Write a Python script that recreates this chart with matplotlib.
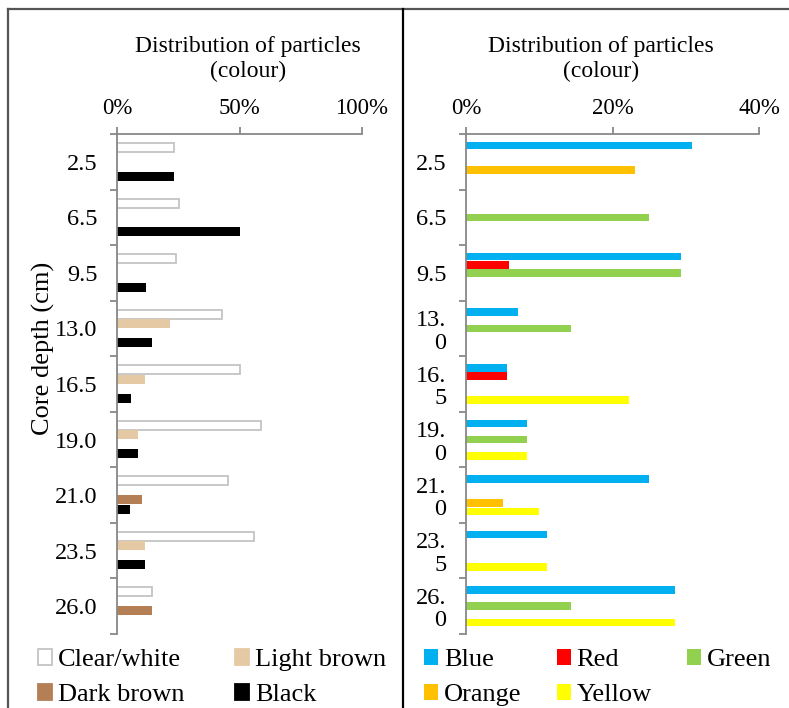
import numpy as np
import matplotlib
matplotlib.use("Agg")
import matplotlib.pyplot as plt
from matplotlib.patches import Patch
from matplotlib.ticker import FixedLocator, PercentFormatter

plt.rcParams['font.family'] = ['Liberation Serif', 'DejaVu Serif']
plt.rcParams['font.size'] = 16

depths = ["2.5", "6.5", "9.5", "13.0", "16.5", "19.0", "21.0", "23.5", "26.0"]
# right panel labels wrap inside the narrow cell
depths_wrapped = ["2.5", "6.5", "9.5", "13.\n0", "16.\n5", "19.\n0", "21.\n0", "23.\n5", "26.\n0"]

# tone of particles (% of particles)
clear_white = [23.3, 25.3, 24.0, 43.0, 50.2, 58.6, 45.3, 55.9, 14.4]
light_brown = [0, 0, 0, 21.6, 11.3, 8.4, 0, 11.3, 0]
dark_brown = [0, 0, 0, 0, 0, 0, 10.2, 0, 14.4]
black = [23.3, 50.2, 11.8, 14.4, 5.6, 8.4, 5.2, 11.3, 0]

# coloured particles (%)
blue = [30.8, 0, 29.4, 7.1, 5.6, 8.3, 25.0, 11.1, 28.6]
red = [0, 0, 5.9, 0, 5.6, 0, 0, 0, 0]
green = [0, 25.0, 29.4, 14.3, 0, 8.3, 0, 0, 14.3]
orange = [23.1, 0, 0, 0, 0, 0, 5.0, 0, 0]
yellow = [0, 0, 0, 0, 22.2, 8.3, 10.0, 11.1, 28.6]

W, H = 789, 708
fig = plt.figure(figsize=(W / 100, H / 100), dpi=100)

def px_axes(x0, y0, x1, y1):
    return fig.add_axes([x0 / W, 1 - y1 / H, (x1 - x0) / W, (y1 - y0) / H])

spine_col = '#888888'

def style_axes(ax, xmax, step, labels):
    n = len(labels)
    ax.set_xlim(0, xmax)
    ax.set_ylim(n - 0.5, -0.5)
    ax.xaxis.tick_top()
    ax.set_xticks(np.arange(0, xmax + 0.1, step))
    ax.xaxis.set_major_formatter(PercentFormatter(decimals=0))
    ax.tick_params(axis='x', direction='out', length=5, width=1.3,
                   color=spine_col, pad=5.5, labelsize=16.5)
    ax.set_yticks(np.arange(n))
    ax.set_yticklabels(labels, linespacing=1.1)
    ax.tick_params(axis='y', which='major', length=0, pad=14, labelsize=17.5)
    ax.yaxis.set_minor_locator(FixedLocator(np.arange(-0.5, n, 1.0)))
    ax.tick_params(axis='y', which='minor', direction='out', length=5,
                   width=1.3, color=spine_col)
    for s in ['right', 'bottom']:
        ax.spines[s].set_visible(False)
    for s in ['left', 'top']:
        ax.spines[s].set_color(spine_col)
        ax.spines[s].set_linewidth(1.3)
    ax.set_facecolor('none')

y = np.arange(len(depths))

# left panel: tone
ax1 = px_axes(117, 134, 362, 634)
series1 = [
    ("Clear/white", clear_white, 'white', '#C4C4C4'),
    ("Light brown", light_brown, '#E5C9A5', 'none'),
    ("Dark brown", dark_brown, '#B57F55', 'none'),
    ("Black", black, 'black', 'none'),
]
h1 = 0.171
for k, (name, vals, fc, ec) in enumerate(series1):
    ax1.barh(y + (k - 1.5) * h1, vals, height=h1 * 0.95, color=fc,
             edgecolor=ec, linewidth=1.3 if ec != 'none' else 0)
style_axes(ax1, 100, 50, depths)
ax1.set_ylabel("Core depth (cm)", fontsize=19)
ax1.yaxis.set_label_coords(-0.253, 0.572)

# right panel: colour
ax2 = px_axes(466, 134, 759, 634)
series2 = [
    ("Blue", blue, '#00B0F0'),
    ("Red", red, '#FF0000'),
    ("Green", green, '#92D050'),
    ("Orange", orange, '#FFC000'),
    ("Yellow", yellow, '#FFFF00'),
]
h2 = 0.146
for k, (name, vals, fc) in enumerate(series2):
    ax2.barh(y + (k - 2) * h2, vals, height=h2 * 0.92, color=fc, linewidth=0)
style_axes(ax2, 40, 20, depths_wrapped)

title = "Distribution of particles\n(colour)"
fig.text(248 / W, 1 - 59 / H, title, ha='center', va='center', fontsize=17,
         linespacing=1.22)
fig.text(601 / W, 1 - 59 / H, title, ha='center', va='center', fontsize=17,
         linespacing=1.22)

# legends
h_left = [Patch(facecolor=fc, edgecolor=ec if ec != 'none' else fc, linewidth=1.3)
          for _, _, fc, ec in series1]
l_left = [s[0] for s in series1]
# reorder so columns read across rows
order = [0, 2, 1, 3]
leg_kw = dict(loc='upper left', frameon=False, fontsize=19,
              handlelength=0.53, handleheight=0.53, handletextpad=0.23,
              labelspacing=0.5, borderpad=0, borderaxespad=0)
fig.legend([h_left[i] for i in order], [l_left[i] for i in order],
           ncol=2, bbox_to_anchor=(38 / W, 1 - 649 / H),
           columnspacing=1.9, **leg_kw)

h_right = [Patch(facecolor=fc, edgecolor='none') for _, _, fc in series2]
l_right = [s[0] for s in series2]
# 3 columns: Blue/Orange, Red/Yellow, Green
blank = Patch(facecolor='none', edgecolor='none')
fig.legend([h_right[0], h_right[3], h_right[1], h_right[4], h_right[2], blank],
           [l_right[0], l_right[3], l_right[1], l_right[4], l_right[2], ""],
           ncol=3, bbox_to_anchor=(424 / W, 1 - 649 / H),
           columnspacing=1.33, **leg_kw)

# cell borders
def fig_line(xs, ys, color, lw):
    fig.add_artist(plt.Line2D([x / W for x in xs], [1 - v / H for v in ys],
                              color=color, linewidth=lw))

fig_line([8, W], [9, 9], '#555555', 1.6)
fig_line([8, 8], [9, H], '#555555', 1.6)
fig_line([403, 403], [9, H], 'black', 1.6)

fig.savefig("out.png", dpi=100)
